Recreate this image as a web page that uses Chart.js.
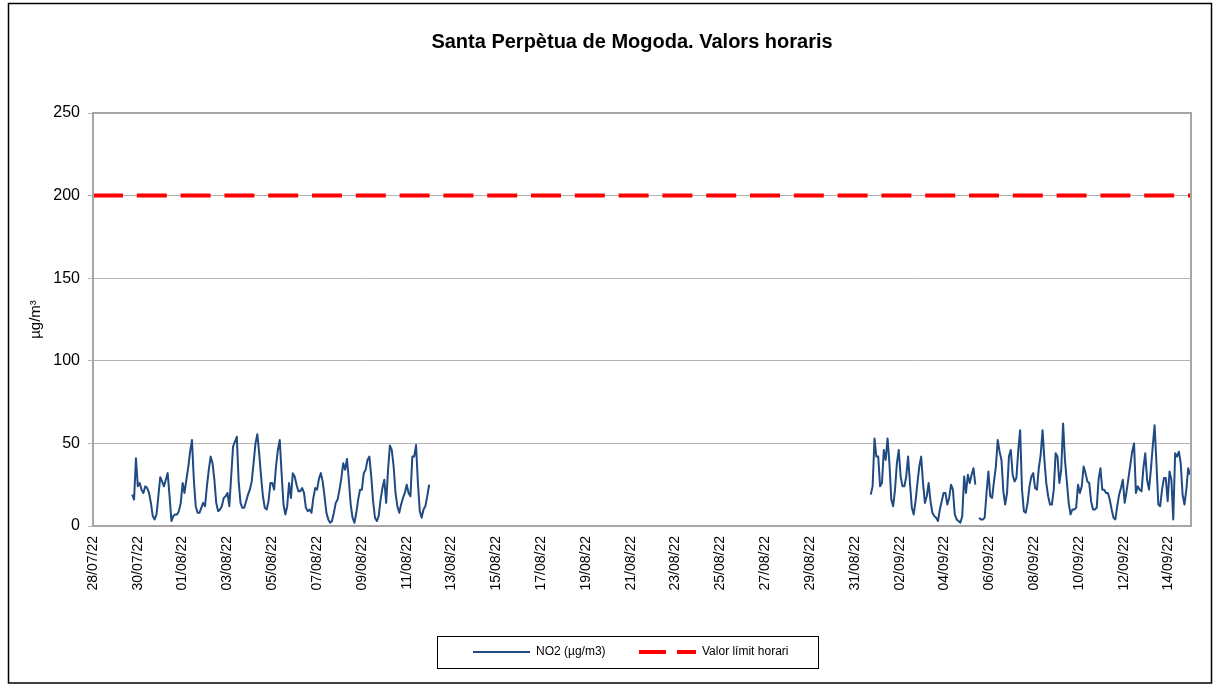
<!DOCTYPE html>
<html><head><meta charset="utf-8">
<script src="https://cdn.jsdelivr.net/npm/chart.js@4.4.1/dist/chart.umd.min.js"></script>
<style>html,body{margin:0;padding:0;background:#fff;} #wrap{width:1214px;height:684px;position:relative;}</style>
</head><body><div id="wrap"><canvas id="c" width="1214" height="684"></canvas></div>
<script>
// x tick labels, one every 2 days starting 28/07/22 00:00
const tickLabels = ['28/07/22','30/07/22','01/08/22','03/08/22','05/08/22','07/08/22','09/08/22','11/08/22','13/08/22','15/08/22','17/08/22','19/08/22','21/08/22','23/08/22','25/08/22','27/08/22','29/08/22','31/08/22','02/09/22','04/09/22','06/09/22','08/09/22','10/09/22','12/09/22','14/09/22'];
const hoursPerTick = 48;
const axisHours = [0, 1176];          // 28/07/22 00:00 -> 16/09/22 00:00
const yTicks = [0, 50, 100, 150, 200, 250];

// NO2 readings (µg/m3), one every 2 hours; hour index counted from 28/07/22 00:00
const no2Seg1Start = 42;
const no2Seg1 = [19,16,41,24,26,22,20,24,23,20,
  14,6,4,7,18,29.5,27,24,28,32,
  18,3,6,7,7,9,14,26,20,28,
  35.5,45,52,28,12,8,8,11,14,12,
  24,34,42,38,28,14,9,10,12,17,
  18,20,12,30,48,51,54,27,14,11,
  11,15,19,22,27,38,50,55.5,44,30,
  18,11,10,15,26,26,22,36,46,52,
  32,13,7,12,26,17,32,30,25,21,
  21,23,20,11,9,10,8,17,23,22,
  28.5,32,27,18,8,4,2,3,8,14,
  16,22,29,38,34,40.6,28,13,5,2,
  8,16,22,22,32,34,40,42,30,15,
  5,3,6,16,23,28,14,34,48.7,46,
  36,20,12,8,13,17,20,25,20,18,
  42,42,49,26,9,5,10,12,18,25];
const no2Seg2Start = 833;
const no2Seg2 = [19,24,53,42,42,24,26,46,40,53,
  38,16,12,22,38,46,30,24,24,30,
  42,26,11,7,15,26,36,42,26,14,
  18,26,15,8,6,5,3,10,15,20,
  20,13,17,25,22,7,4,3,2,6,
  30,20,31,26,31,35,25,null,5,4,
  4,5,20,33,18,17,27,36,52,45,
  40,21,13,20,42,46,31,27,29,46,
  58,22,9,8,14,24,30,32,23,22,
  35,43,58,40,26,18,13,13,22,44,
  42,26,34,62,40,27,14,7,10,10,
  11,25,20,24,36,32,27,26,15,10,
  10,11,28,35,22,22,20,20,16,10,
  5,4,12,19,23,28,14,21,29,37,
  45,50,20,24,22,21,35,44,28,22,
  34,48,61,38,13,12,22,29,29,15,
  33,28,4,44,42,45,38,19,13,22,
  35,31];
const stepHours = 2;
const limitValue = 200;

const chartTitle = 'Santa Perpètua de Mogoda. Valors horaris';
const yTitle = 'µg/m³';

const FONT = '"Liberation Sans", Arial, sans-serif';
Chart.defaults.font.family = FONT;
Chart.defaults.color = '#000';

function buildSeries() {
  const pts = [];
  no2Seg1.forEach((v, i) => pts.push({x: no2Seg1Start + i * stepHours, y: v}));
  pts.push({x: no2Seg1Start + no2Seg1.length * stepHours, y: null});
  no2Seg2.forEach((v, i) => pts.push({x: no2Seg2Start + i * stepHours, y: v}));
  return pts;
}

const decor = {
  id: 'decor',
  beforeDraw(chart) {
    const ctx = chart.ctx;
    ctx.save(); ctx.fillStyle = '#fff'; ctx.fillRect(0, 0, chart.width, chart.height); ctx.restore();
  },
  afterDraw(chart) {
    const {ctx, chartArea: a} = chart;
    ctx.save();
    ctx.strokeStyle = '#a6a6a6'; ctx.lineWidth = 2;
    ctx.strokeRect(a.left, a.top, a.right - a.left, a.bottom - a.top);
    ctx.strokeStyle = '#000'; ctx.lineWidth = 1.5;
    ctx.strokeRect(8.5, 3.5, 1203, 679.5);
    // chart title
    ctx.fillStyle = '#000'; ctx.textAlign = 'center'; ctx.textBaseline = 'middle';
    ctx.font = 'bold 20px ' + FONT;
    ctx.fillText(chartTitle, 632, 42);
    // y-axis title
    ctx.font = '15px ' + FONT;
    ctx.translate(36, (a.top + a.bottom) / 2); ctx.rotate(-Math.PI / 2);
    ctx.fillText(yTitle, 0, 0);
    ctx.restore();

    // legend
    const bx = 437, by = 636, bw = 381, bh = 32;
    ctx.save();
    ctx.strokeStyle = '#000'; ctx.lineWidth = 1;
    ctx.strokeRect(bx + 0.5, by + 0.5, bw, bh);
    const starts = [36, 202];
    const legendDash = [[], [27, 11]];
    ctx.font = '12px ' + FONT; ctx.textAlign = 'left'; ctx.textBaseline = 'middle'; ctx.fillStyle = '#000';
    chart.data.datasets.forEach((ds, i) => {
      const x0 = bx + starts[i], y0 = by + bh / 2;
      ctx.save();
      ctx.strokeStyle = ds.borderColor; ctx.lineWidth = ds.borderWidth;
      ctx.setLineDash(legendDash[i]);
      ctx.beginPath(); ctx.moveTo(x0, y0); ctx.lineTo(x0 + 57, y0); ctx.stroke();
      ctx.restore();
      ctx.fillText(ds.label, x0 + 63, y0);
    });
    ctx.restore();
  }
};

new Chart(document.getElementById('c'), {
  type: 'line',
  data: {
    datasets: [
      {label: 'NO2 (µg/m3)', data: buildSeries(), borderColor: '#1f4a82', borderWidth: 2, pointRadius: 0, tension: 0, spanGaps: false, borderJoinStyle: 'round'},
      {label: 'Valor límit horari', data: axisHours.map(h => ({x: h, y: limitValue})), borderColor: '#ff0000', borderWidth: 4, borderDash: [30, 13.8], pointRadius: 0}
    ]
  },
  options: {
    responsive: false,
    animation: false,
    devicePixelRatio: 1,
    layout: {padding: {left: 0, right: 23, top: 113, bottom: 78}},
    plugins: {
      legend: {display: false},
      tooltip: {enabled: false},
      title: {display: false}
    },
    scales: {
      x: {
        type: 'linear', min: axisHours[0], max: axisHours[1],
        afterBuildTicks: s => { s.ticks = tickLabels.map((_, i) => ({value: i * hoursPerTick})); },
        afterFit: s => { s.height = 80; },
        grid: {display: false, drawTicks: false},
        border: {display: false},
        ticks: {autoSkip: false, minRotation: 90, maxRotation: 90, padding: 10, font: {size: 14},
          callback: (v, i) => tickLabels[i]}
      },
      y: {
        min: 0, max: 250,
        afterBuildTicks: s => { s.ticks = yTicks.map(v => ({value: v})); },
        afterFit: s => { s.width = 93; },
        grid: {color: '#b3b3b3', lineWidth: 1, tickLength: 5, drawTicks: true},
        border: {display: false},
        ticks: {padding: 8, font: {size: 16}}
      }
    }
  },
  plugins: [decor]
});
</script></body></html>
